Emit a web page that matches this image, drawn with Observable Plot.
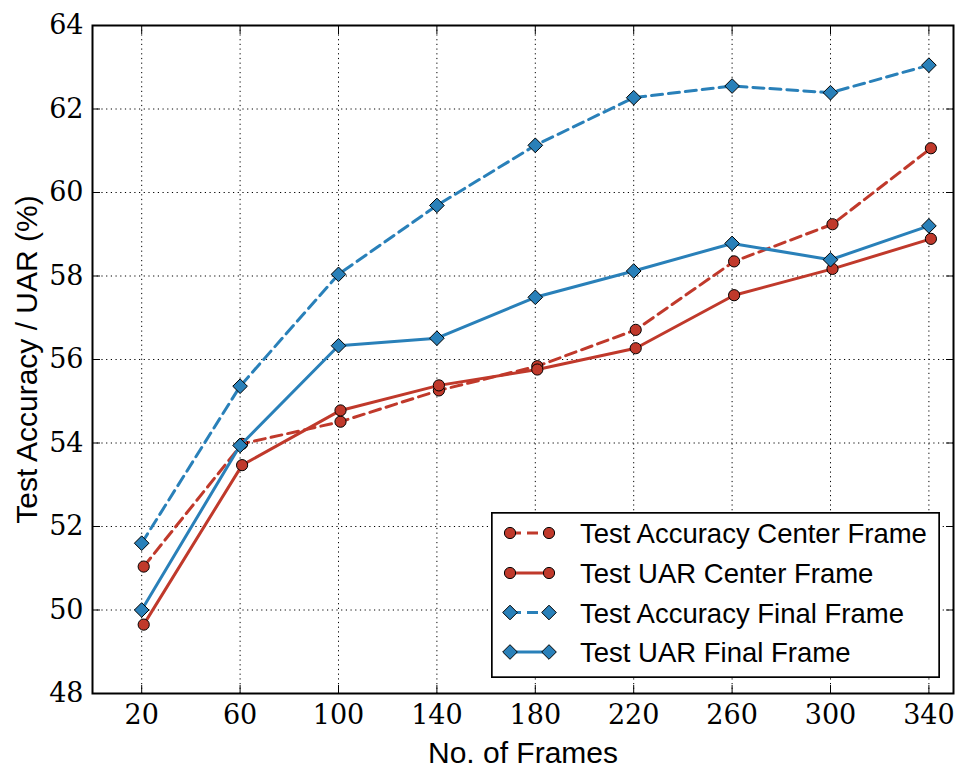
<!DOCTYPE html>
<html><head><meta charset="utf-8">
<script src="https://cdn.jsdelivr.net/npm/d3@7"></script>
<script src="https://cdn.jsdelivr.net/npm/@observablehq/plot@0.6"></script>
<style>
body{margin:0;background:#fff;}
#wrap{position:relative;width:957px;height:770px;}
#legend{position:absolute;left:491px;top:512px;}
</style></head><body><div id="wrap"></div>
<script>
const frames = [20, 60, 100, 140, 180, 220, 260, 300, 340];
const accCenter = [51.04, 53.98, 54.51, 55.26, 55.84, 56.71, 58.35, 59.24, 61.06];
const uarCenter = [49.65, 53.47, 54.78, 55.38, 55.76, 56.27, 57.54, 58.17, 58.89];
const accFinal  = [51.60, 55.36, 58.04, 59.69, 61.13, 62.27, 62.55, 62.39, 63.05];
const uarFinal  = [50.00, 53.94, 56.33, 56.51, 57.49, 58.12, 58.78, 58.39, 59.20];
const seriesNames = ["Test Accuracy Center Frame", "Test UAR Center Frame", "Test Accuracy Final Frame", "Test UAR Final Frame"];
const xTicks = [20, 60, 100, 140, 180, 220, 260, 300, 340];
const yTicks = [48, 50, 52, 54, 56, 58, 60, 62, 64];
const xLabel = "No. of Frames";
const yLabel = "Test Accuracy / UAR (%)";

const RED = "#c0392b", BLUE = "#2980b9";
const styles = [
  {color: RED, dash: "11,6", symbol: "circle", r: 5.6, dx: 2},
  {color: RED, dash: null, symbol: "circle", r: 5.6, dx: 2},
  {color: BLUE, dash: "11,6", symbol: "diamond2", r: 6.6, dx: 0},
  {color: BLUE, dash: null, symbol: "diamond2", r: 6.6, dx: 0}
];
const values = [accCenter, uarCenter, accFinal, uarFinal];
const series = seriesNames.map((name, i) => ({
  name, ...styles[i],
  rows: frames.map((f, j) => ({frames: f, value: values[i][j], series: name}))
}));

const serif = "DejaVu Serif";
const sans = "Liberation Sans";

const marks = [
  Plot.gridX(xTicks, {stroke: "#000", strokeOpacity: 1, strokeWidth: 1, strokeDasharray: "1.2,3.5"}),
  Plot.gridY(yTicks, {stroke: "#000", strokeOpacity: 1, strokeWidth: 1, strokeDasharray: "1.2,3.5"})
];
for (const s of series) {
  marks.push(Plot.line(s.rows, {x: "frames", y: "value", stroke: s.color, strokeWidth: 3, strokeDasharray: s.dash, dx: s.dx}));
  marks.push(Plot.dot(s.rows, {x: "frames", y: "value", symbol: s.symbol, r: s.r, fill: s.color, stroke: "#000", strokeWidth: 1, dx: s.dx}));
}
marks.push(
  Plot.axisX(xTicks, {anchor: "bottom", tickSize: -8, tickFormat: () => "", label: null}),
  Plot.axisX(xTicks, {anchor: "top", tickSize: -8, tickFormat: () => "", label: null}),
  Plot.axisY(yTicks, {anchor: "left", tickSize: -8, tickFormat: () => "", label: null}),
  Plot.axisY(yTicks, {anchor: "right", tickSize: -8, tickFormat: () => "", label: null}),
  Plot.text(xTicks, {x: d => d, frameAnchor: "bottom", dy: 11, lineAnchor: "top", textAnchor: "middle",
    fontSize: 27, fontFamily: serif, fill: "#000"}),
  Plot.text(yTicks, {y: d => d, frameAnchor: "left", dx: -9, lineAnchor: "middle", textAnchor: "end",
    fontSize: 27, fontFamily: serif, fill: "#000"}),
  Plot.frame({stroke: "#000", strokeWidth: 2}),
  Plot.text([xLabel], {frameAnchor: "bottom", dy: 69, lineAnchor: "bottom", textAnchor: "middle", fontSize: 30, fontFamily: sans, fill: "#000"}),
  Plot.text([yLabel], {frameAnchor: "left", dx: -65, rotate: -90, textAnchor: "middle", lineAnchor: "middle", fontSize: 30, fontFamily: sans, fill: "#000"})
);

const chart = Plot.plot({
  width: 957, height: 770,
  marginLeft: 92, marginRight: 4, marginTop: 25, marginBottom: 77,
  x: {domain: [0, 350], axis: null},
  y: {domain: [48, 64], axis: null},
  style: {background: "#fff", overflow: "visible"},
  marks
});
const wrap = document.getElementById("wrap");
wrap.appendChild(chart);

// legend
const LW = 449, LH = 166;
const leg = d3.select(wrap).append("div").attr("id", "legend")
  .append("svg").attr("width", LW).attr("height", LH).style("display", "block");
leg.append("rect").attr("x", 0.85).attr("y", 0.85).attr("width", LW - 1.7).attr("height", LH - 1.7)
  .attr("fill", "#fff").attr("stroke", "#000").attr("stroke-width", 1.7);
const rowY = [21, 61, 100.5, 140];
series.forEach((s, i) => {
  const g = leg.append("g").attr("transform", `translate(0,${rowY[i]})`);
  g.append("line").attr("x1", 19).attr("x2", 58).attr("y1", 0).attr("y2", 0)
    .attr("stroke", s.color).attr("stroke-width", 3).attr("stroke-dasharray", s.dash);
  const sym = d3.symbol(s.symbol === "circle" ? d3.symbolCircle : d3.symbolDiamond2, Math.PI * s.r * s.r);
  for (const cx of [19, 58]) {
    g.append("path").attr("d", sym()).attr("transform", `translate(${cx},0)`)
      .attr("fill", s.color).attr("stroke", "#000").attr("stroke-width", 1);
  }
  g.append("text").attr("x", 89).attr("y", 10).attr("font-family", sans).attr("font-size", 27.5)
    .attr("fill", "#000").text(s.name);
});
</script></body></html>
